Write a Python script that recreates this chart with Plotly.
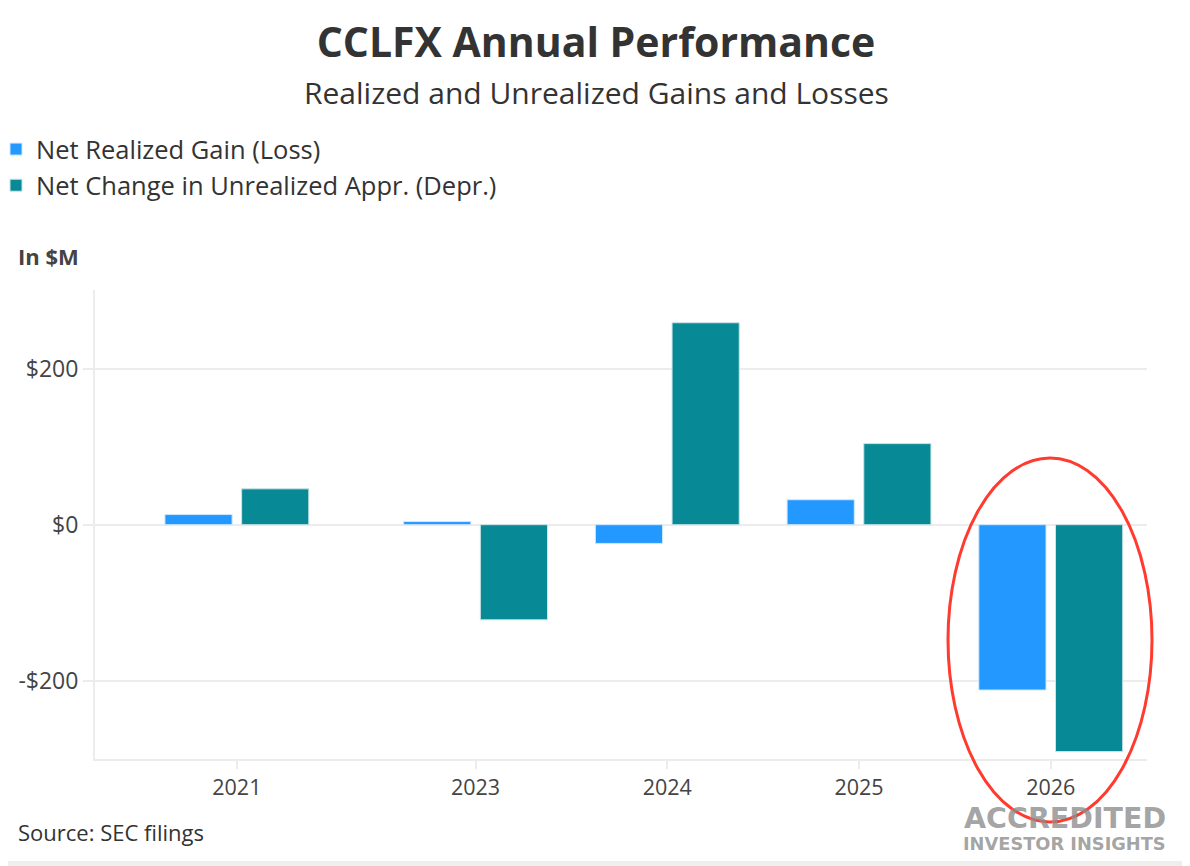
import plotly.graph_objects as go

# Datos del gráfico (en millones de USD)
years = ["2021", "2023", "2024", "2025", "2026"]
# posición de cada periodo sobre el eje temporal (2021 queda algo más cerca de 2023)
period_x = [2021.755, 2023, 2024, 2025, 2026]
realized = [13, 4, -24, 32, -212]
unrealized = [46, -122, 259, 104, -291]

FONT = "Open Sans"
BLUE = "#2398ff"
TEAL = "#078a96"
GRID = "#ececec"

# la página añade 8 px de margen, así que la figura es 8 px más pequeña
W, H = 1182, 858
L, R, T, B = 87, 43, 282, 107
PW, PH = W - L - R, H - T - B


def px_x(p):
    # píxel de la figura -> coordenada paper
    return (p - L) / PW


def px_y(p):
    return (H - B - p) / PH


fig = go.Figure()

fig.add_trace(go.Bar(
    x=period_x, y=realized,
    name="Net Realized Gain (Loss)",
    marker=dict(color=BLUE, line=dict(color="#cfe6ff", width=1)),
))
fig.add_trace(go.Bar(
    x=period_x, y=unrealized,
    name="Net Change in Unrealized Appr. (Depr.)",
    marker=dict(color=TEAL, line=dict(color="#cde3e6", width=1)),
))

fig.update_layout(
    width=W, height=H,
    paper_bgcolor="white", plot_bgcolor="white",
    margin=dict(l=L, r=R, t=T, b=B, autoexpand=False),
    barmode="group", bargap=0.20, bargroupgap=0.124,
    font=dict(family=FONT, color="#333333"),
    title=dict(
        text="<b>CCLFX Annual Performance</b>",
        x=588 / W, xref="container", xanchor="center",
        y=1 - 35 / H, yref="container", yanchor="middle",
        font=dict(size=41, color="#333333", family=FONT),
    ),
    legend=dict(
        x=px_x(-12), xanchor="left", y=px_y(118), yanchor="top",
        font=dict(size=25.5, color="#333333"),
        itemwidth=30, bgcolor="rgba(0,0,0,0)",
    ),
    showlegend=True,
)

fig.update_xaxes(
    range=[2021.015, 2026.502],
    tickvals=period_x, ticktext=years,
    showgrid=False, zeroline=False, automargin=False,
    showline=True, linecolor=GRID, linewidth=2,
    ticks="outside", ticklen=8, tickcolor=GRID, tickwidth=2,
    tickfont=dict(size=21.5, color="#444444"),
)
fig.update_yaxes(
    range=[-300.5, 301],
    tickvals=[-200, 0, 200], ticktext=["-$200", "$0", "$200"],
    showgrid=True, gridcolor=GRID, gridwidth=2,
    zeroline=True, zerolinecolor=GRID, zerolinewidth=2, automargin=False,
    showline=True, linecolor=GRID, linewidth=2,
    ticks="outside", ticklen=10, tickcolor=GRID, tickwidth=2,
    tickfont=dict(size=23, color="#444444"),
)

# Subtítulo, unidad, fuente y marca de agua
fig.add_annotation(text="Realized and Unrealized Gains and Losses",
                   xref="paper", yref="paper", x=px_x(588), y=px_y(85),
                   showarrow=False, xanchor="center", yanchor="middle",
                   font=dict(size=30, color="#333333"))
fig.add_annotation(text="<b>In $M</b>",
                   xref="paper", yref="paper", x=px_x(8), y=px_y(248),
                   showarrow=False, xanchor="left", yanchor="middle",
                   font=dict(size=22, color="#444444"))
fig.add_annotation(text="Source: SEC filings",
                   xref="paper", yref="paper", x=px_x(8), y=px_y(824),
                   showarrow=False, xanchor="left", yanchor="middle",
                   font=dict(size=22, color="#333333"))
fig.add_annotation(text="<b>ACCREDITED</b>",
                   xref="paper", yref="paper", x=px_x(1160), y=px_y(810),
                   showarrow=False, xanchor="right", yanchor="middle",
                   font=dict(size=28.5, color="rgba(140,140,140,0.8)", family="DejaVu Sans"))
fig.add_annotation(text="<b>INVESTOR INSIGHTS</b>",
                   xref="paper", yref="paper", x=px_x(1160), y=px_y(835),
                   showarrow=False, xanchor="right", yanchor="middle",
                   font=dict(size=17.8, color="rgba(140,140,140,0.8)", family="DejaVu Sans"))

# Elipse roja resaltando 2026
fig.add_shape(type="circle", xref="paper", yref="paper",
              x0=px_x(940), x1=px_x(1144), y0=px_y(814), y1=px_y(450),
              line=dict(color="#ff3b30", width=3), layer="above")

# Franja gris inferior
fig.add_shape(type="rect", xref="paper", yref="paper",
              x0=px_x(-10), x1=px_x(W + 10), y0=px_y(H + 10), y1=px_y(853),
              fillcolor="#eeeeee", line=dict(width=0), layer="below")

fig.write_html("out.html")
